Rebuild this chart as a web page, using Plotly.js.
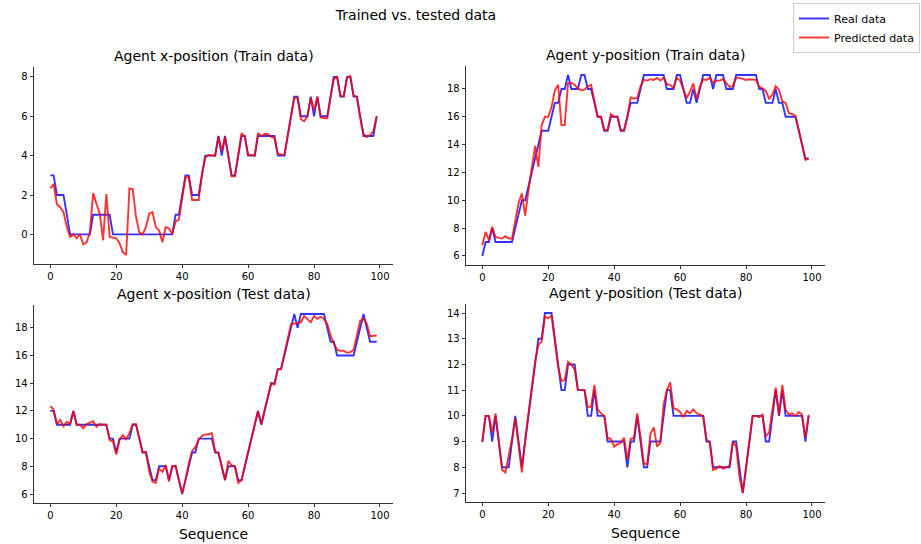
<!DOCTYPE html>
<html>
<head>
<meta charset="utf-8">
<script src="https://cdn.plot.ly/plotly-3.0.1.min.js"></script>
<style>html,body{margin:0;padding:0;background:#fff;}#chart{width:921px;height:544px;}</style>
</head>
<body>
<div id="chart"></div>
<script>
// ---- Data ----
const xTrainReal = [
  3,3,2,2,2,1,0,0,0,0,
  0,0,0,1,1,1,1,1,1,0,
  0,0,0,0,0,0,0,0,0,0,
  0,0,0,0,0,0,0,0,1,1,
  2,3,3,2,2,2,3,4,4,4,
  4,5,4,5,4,3,3,4,5,5,
  4,4,4,5,5,5,5,5,5,4,
  4,4,5,6,7,7,6,6,6,7,
  6,7,6,6,6,7,8,8,7,7,
  8,8,7,7,6,5,5,5,5,6];
const xTrainPred = [
  2.34,2.56,1.52,1.38,1.13,0.37,-0.13,0,-0.2,0,
  -0.5,-0.4,0.1,2.1,1.55,1.05,-0.3,2.05,-0.13,-0.15,
  -0.2,-0.45,-0.9,-1.05,2.34,2.3,0.88,0.1,0,0.37,
  1.05,1.13,0.37,0.2,-0.4,0.37,0.3,0.03,0.65,0.75,
  1.9,2.9,2.9,1.75,1.75,1.75,3.07,3.9,4.03,4.03,
  4.0,4.95,4.25,4.95,4.0,2.95,2.95,4.05,5.15,4.95,
  4.03,4.03,4.0,5.15,5.0,5.1,5.1,4.95,4.9,4.1,
  4.08,4.03,5.0,6.0,6.95,6.9,5.85,5.75,6.0,6.95,
  6.3,7.0,5.95,5.9,5.9,6.95,7.9,8.0,7.05,7.0,
  7.95,8.05,7.05,7.0,5.9,5.1,4.95,5.05,5.25,6.0];

const yTrainReal = [
  6,7,7,8,7,7,7,7,7,7,
  8,9,10,10,11,12,13,14,15,15,
  15,16,17,17,18,18,19,18,18,18,
  19,19,18,18,17,16,16,15,15,16,
  16,16,15,15,16,17,17,17,18,19,
  19,19,19,19,19,19,18,18,18,19,
  19,18,17,17,18,17,18,19,19,19,
  18,19,19,19,18,18,18,19,19,19,
  19,19,19,19,18,18,17,17,17,18,
  17,17,16,16,16,16,15,14,13,13];
const yTrainPred = [
  6.77,7.73,7.13,8.1,7.37,7.32,7.25,7.42,7.25,7.25,
  8.6,9.8,10.5,8.9,10.7,12.2,13.9,12.4,15.4,16.0,
  16.0,16.7,17.9,18.3,15.4,15.4,18.4,18.45,18.3,18.05,
  17.9,17.95,18.2,18.3,17.1,16.0,16.0,15.05,15.05,16.2,
  16.0,16.0,15.0,15.05,16.0,17.4,17.3,17.35,18.2,18.65,
  18.6,18.7,18.65,18.8,18.6,18.8,18.35,18.3,18.05,18.8,
  18.6,17.95,17.35,17.8,18.4,17.25,18.15,18.7,18.65,18.8,
  18.45,18.6,18.6,18.7,18.4,18.15,18.2,18.8,18.8,18.7,
  18.65,18.7,18.65,18.65,18.15,18.05,17.85,17.3,17.6,18.2,
  17.95,17.1,17.0,16.25,16.2,16.05,15.05,14.0,12.9,13.0];

const xTestReal = [
  12,12,11,11,11,11,11,12,11,11,
  11,11,11,11,11,11,11,11,10,10,
  9,10,10,10,10,11,11,10,9,9,
  8,7,7,8,8,8,7,8,8,7,
  6,7,8,9,9,10,10,10,10,10,
  9,9,8,7,8,8,8,7,7,8,
  9,10,11,12,11,12,13,14,14,15,
  15,16,17,18,19,18,19,19,19,19,
  19,19,19,19,18,17,17,16,16,16,
  16,16,16,17,18,19,18,17,17,17];
const xTestPred = [
  12.35,12.1,11.05,11.35,10.9,11.2,11.1,12.0,11.0,11.0,
  10.75,11.05,11.15,11.25,10.85,11.05,11.0,11.0,9.9,9.8,
  8.85,9.9,10.25,9.95,10.4,11.05,11.05,10.0,9.0,9.05,
  7.6,6.9,6.8,7.85,7.6,8.1,6.9,8.0,8.05,7.0,
  6.05,7.0,8.2,9.1,9.4,9.9,10.2,10.3,10.3,10.4,
  9.05,8.95,8.0,7.0,8.4,8.05,8.0,6.8,7.0,8.05,
  9.0,10.0,11.0,12.0,11.05,12.0,13.0,14.0,13.9,15.0,
  15.05,16.1,17.2,18.25,18.3,18.35,18.4,18.85,18.65,18.4,
  18.85,18.65,18.8,18.65,18.3,17.45,16.9,16.4,16.35,16.35,
  16.2,16.25,16.4,17.45,18.5,18.65,18.3,17.4,17.45,17.45];

const yTestReal = [
  9,10,10,9,10,9,8,8,8,9,
  10,9,8,9,10,11,12,13,13,14,
  14,14,13,12,11,11,12,12,12,11,
  11,11,10,10,11,10,10,10,9,9,
  9,9,9,9,8,9,9,10,9,8,
  8,9,9,9,9,10,11,11,10,10,
  10,10,10,10,10,10,10,10,9,9,
  8,8,8,8,8,8,9,9,8,7,
  8,9,10,10,10,10,9,9,10,11,
  10,11,10,10,10,10,10,10,9,10];
const yTestPred = [
  8.98,10.0,10.0,9.35,10.1,9.1,7.9,7.8,8.45,9.1,
  9.9,8.8,7.8,9.1,10.1,11.15,12.1,12.75,12.9,13.85,
  13.8,13.9,13.0,11.9,11.35,11.4,12.1,12.0,11.8,11.0,
  11.0,11.0,10.35,10.35,11.2,10.25,10.1,10.0,9.15,9.1,
  8.8,8.9,8.95,9.15,8.3,9.1,9.15,10.1,9.15,8.15,
  8.1,9.3,9.55,8.8,8.95,10.45,11.0,11.3,10.3,10.25,
  10.15,9.95,10.2,10.1,10.25,10.1,10.05,10.0,9.1,8.95,
  7.9,7.95,8.05,7.95,8.0,8.05,9.0,8.8,7.65,7.0,
  7.95,9.1,10.0,10.0,9.95,10.05,9.2,9.35,10.2,11.1,
  10.05,11.2,10.25,10.05,10.1,10.0,10.15,10.05,9.15,10.05];

const panelTitles = [
  "Agent x-position (Train data)",
  "Agent y-position (Train data)",
  "Agent x-position (Test data)",
  "Agent y-position (Test data)"
];
const seriesNames = ["Real data", "Predicted data"];
const mainTitle = "Trained vs. tested data";
const xLabel = "Sequence";
const yTickStep = [2, 2, 2, 1];
const xTickStep = 20;

// ---- Build figure ----
const W = 921, H = 544;
const FONT = "DejaVu Sans, Liberation Sans, sans-serif";
const realColor = "rgba(0,0,255,0.8)";
const predColor = "rgba(255,0,0,0.8)";

const panels = [
  [xTrainReal, xTrainPred],
  [yTrainReal, yTrainPred],
  [xTestReal, xTestPred],
  [yTestReal, yTestPred]
];
// pixel boxes of each plotting area [left, right, top, bottom]
const boxes = [
  [34, 393, 67, 264],
  [466, 825, 66, 265],
  [34, 393, 305, 503],
  [466, 825, 304, 502]
];

const traces = [];
const layout = {
  width: W, height: H,
  margin: {l: 0, r: 0, t: 0, b: 0, pad: 0},
  paper_bgcolor: "#fff", plot_bgcolor: "#fff",
  font: {family: FONT, size: 10, color: "#000"},
  title: {text: mainTitle, x: 416 / W, xanchor: "center", xref: "paper",
          y: 1 - 15 / H, yanchor: "middle", yref: "paper",
          font: {family: FONT, size: 14, color: "#000"}},
  showlegend: true,
  legend: {x: 920 / W, xanchor: "right", y: 1 - 3 / H, yanchor: "top",
           bgcolor: "rgba(255,255,255,0.8)", bordercolor: "#cccccc", borderwidth: 1,
           font: {family: FONT, size: 11, color: "#000"}, tracegroupgap: 0,
           itemwidth: 30},
  annotations: []
};

panels.forEach((pair, k) => {
  const n = pair[0].length;
  const seq = pair[0].map((_, i) => i);
  const sfx = k === 0 ? "" : String(k + 1);
  const xa = "x" + sfx, ya = "y" + sfx;
  pair.forEach((vals, s) => {
    traces.push({
      type: "scatter", mode: "lines",
      x: seq, y: vals, xaxis: xa, yaxis: ya,
      name: seriesNames[s],
      showlegend: k === 0,
      line: {color: s === 0 ? realColor : predColor, width: 1.9},
      hoverinfo: "skip"
    });
  });
  const all = pair[0].concat(pair[1]);
  const mn = Math.min(...all), mx = Math.max(...all);
  const pad = (mx - mn) * 0.05;
  const xpad = (n - 1) * 0.05;
  const b = boxes[k];
  const common = {
    showline: true, linecolor: "#000", linewidth: 0.8, mirror: false,
    ticks: "outside", ticklen: 3.5, tickwidth: 0.8, tickcolor: "#000",
    showgrid: false, zeroline: false, automargin: false,
    tickfont: {family: FONT, size: 10, color: "#000"}
  };
  layout["xaxis" + sfx] = Object.assign({}, common, {
    domain: [b[0] / W, b[1] / W], anchor: ya,
    range: [-xpad, (n - 1) + xpad], tick0: 0, dtick: xTickStep,
    title: k >= 2 ? {text: xLabel, font: {family: FONT, size: 14, color: "#000"}, standoff: 8} : {text: ""}
  });
  layout["yaxis" + sfx] = Object.assign({}, common, {
    domain: [1 - b[3] / H, 1 - b[2] / H], anchor: xa,
    range: [mn - pad, mx + pad], tick0: 0, dtick: yTickStep[k]
  });
  layout.annotations.push({
    text: panelTitles[k], xref: "paper", yref: "paper",
    x: (b[0] + b[1]) / 2 / W, xanchor: "center",
    y: 1 - b[2] / H, yanchor: "bottom", yshift: 1,
    showarrow: false, font: {family: FONT, size: 14, color: "#000"}
  });
});

Plotly.newPlot("chart", traces, layout, {displayModeBar: false, staticPlot: true});
</script>
</body>
</html>
